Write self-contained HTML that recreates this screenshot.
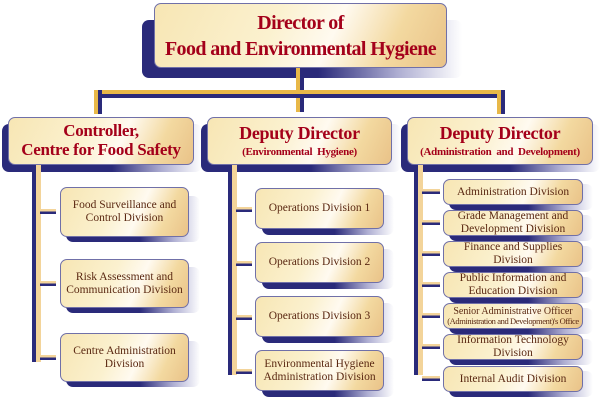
<!DOCTYPE html>
<html><head><meta charset="utf-8"><style>
body{margin:0;width:600px;height:400px;background:#fff;position:relative;overflow:hidden;font-family:"Liberation Serif",serif}
.a{position:absolute}
.sh{position:absolute;border-radius:7px;background:linear-gradient(90deg,#2a2a7a 0%,#2a2a7a 55%,rgba(120,120,180,.6) 80%,rgba(255,255,255,0) 100%)}
.bx{position:absolute;box-sizing:border-box;border:1px solid #7070a8;border-radius:7px;background:linear-gradient(115deg,#f7e6b4 0%,#fbf1cf 40%,#fffaf0 60%,#f3d9a0 80%,#e9c288 100%);display:flex;align-items:center;justify-content:center;text-align:center;color:#5a2812;line-height:1.1;white-space:nowrap}
.h{color:#a4001a;font-weight:bold;letter-spacing:-.3px}
.c{font-size:11.5px}
.sp{position:absolute;background:linear-gradient(90deg,#2a2a7a 0,#2a2a7a 45%,#f3d49a 45%,#f3d49a 100%)}
.tk{position:absolute;height:5px;background:linear-gradient(#f3d49a 50%,#2a2a7a 50%)}
</style></head><body>
<div class="sh" style="left:142px;top:20px;width:320px;height:58px"></div>
<div class="bx h" style="left:154px;top:3px;width:293px;height:65px;font-size:20px;line-height:1.3;letter-spacing:-.6px">Director of<br>Food and Environmental Hygiene</div>
<div class="a" style="left:296px;top:68px;width:8px;height:44px;background:linear-gradient(90deg,#e8b848 50%,#2a2a7a 50%)"></div>
<div class="a" style="left:95px;top:90px;width:410px;height:4px;background:#e8b848"></div>
<div class="a" style="left:95px;top:94px;width:410px;height:4px;background:#2a2a7a"></div>
<div class="a" style="left:94px;top:90px;width:8px;height:24px;background:linear-gradient(90deg,#e8b848 50%,#2a2a7a 50%)"></div>
<div class="a" style="left:497px;top:90px;width:8px;height:24px;background:linear-gradient(90deg,#e8b848 50%,#2a2a7a 50%)"></div>
<div class="sh" style="left:2px;top:124px;width:200px;height:48px"></div>
<div class="bx h" style="left:8px;top:117px;width:186px;height:48px;font-size:17px">Controller,<br>Centre for Food Safety</div>
<div class="sh" style="left:201px;top:124px;width:200px;height:48px"></div>
<div class="bx h" style="left:207px;top:117px;width:185px;height:48px;font-size:18px;flex-direction:column">Deputy Director<span style="font-size:11px;margin-top:2px">(Environmental&nbsp; Hygiene)</span></div>
<div class="sh" style="left:401px;top:124px;width:199px;height:48px"></div>
<div class="bx h" style="left:407px;top:117px;width:186px;height:48px;font-size:18px;flex-direction:column">Deputy Director<span style="font-size:11px;margin-top:2px">(Administration&nbsp; and&nbsp; Development)</span></div>
<div class="sp" style="left:32px;top:165px;width:9px;height:197px"></div>
<div class="sp" style="left:228px;top:165px;width:9px;height:210px"></div>
<div class="sp" style="left:414px;top:165px;width:9px;height:210px"></div>
<div class="tk" style="left:40px;top:209px;width:16px"></div>
<div class="tk" style="left:40px;top:281px;width:16px"></div>
<div class="tk" style="left:40px;top:355px;width:16px"></div>
<div class="sh" style="left:66px;top:196px;width:134px;height:46px"></div>
<div class="bx c" style="left:60px;top:187px;width:129px;height:50px">Food Surveillance and<br>Control Division</div>
<div class="sh" style="left:66px;top:267px;width:134px;height:46px"></div>
<div class="bx c" style="left:60px;top:259px;width:129px;height:49px">Risk Assessment and<br>Communication Division</div>
<div class="sh" style="left:66px;top:341px;width:134px;height:46px"></div>
<div class="bx c" style="left:60px;top:333px;width:129px;height:49px">Centre Administration<br>Division</div>
<div class="tk" style="left:236px;top:207px;width:16px"></div>
<div class="tk" style="left:236px;top:261px;width:16px"></div>
<div class="tk" style="left:236px;top:315px;width:16px"></div>
<div class="tk" style="left:236px;top:369px;width:16px"></div>
<div class="sh" style="left:262px;top:195px;width:132px;height:40px"></div>
<div class="bx c" style="left:255px;top:188px;width:129px;height:41px">Operations Division 1</div>
<div class="sh" style="left:262px;top:249px;width:132px;height:40px"></div>
<div class="bx c" style="left:255px;top:242px;width:129px;height:41px">Operations Division 2</div>
<div class="sh" style="left:262px;top:303px;width:132px;height:40px"></div>
<div class="bx c" style="left:255px;top:296px;width:129px;height:41px">Operations Division 3</div>
<div class="sh" style="left:262px;top:357px;width:132px;height:40px"></div>
<div class="bx c" style="left:255px;top:350px;width:129px;height:41px">Environmental Hygiene<br>Administration Division</div>
<div class="tk" style="left:422px;top:189px;width:18px"></div>
<div class="tk" style="left:422px;top:220px;width:18px"></div>
<div class="tk" style="left:422px;top:251px;width:18px"></div>
<div class="tk" style="left:422px;top:282px;width:18px"></div>
<div class="tk" style="left:422px;top:313px;width:18px"></div>
<div class="tk" style="left:422px;top:344px;width:18px"></div>
<div class="tk" style="left:422px;top:376px;width:18px"></div>
<div class="sh" style="left:449px;top:184px;width:144px;height:26px"></div>
<div class="bx c" style="left:443px;top:179px;width:140px;height:26px">Administration Division</div>
<div class="sh" style="left:449px;top:215px;width:144px;height:26px"></div>
<div class="bx c" style="left:443px;top:210px;width:140px;height:26px">Grade Management and<br>Development Division</div>
<div class="sh" style="left:449px;top:246px;width:144px;height:26px"></div>
<div class="bx c" style="left:443px;top:241px;width:140px;height:26px">Finance and Supplies<br>Division</div>
<div class="sh" style="left:449px;top:277px;width:144px;height:26px"></div>
<div class="bx c" style="left:443px;top:272px;width:140px;height:26px">Public Information and<br>Education Division</div>
<div class="sh" style="left:449px;top:308px;width:144px;height:26px"></div>
<div class="bx" style="left:443px;top:303px;width:140px;height:26px;font-size:10px;flex-direction:column"><span>Senior Administrative Officer</span><span style="font-size:8.5px;letter-spacing:-.4px">(Administration and Development)'s Office</span></div>
<div class="sh" style="left:449px;top:339px;width:144px;height:26px"></div>
<div class="bx c" style="left:443px;top:334px;width:140px;height:26px">Information Technology<br>Division</div>
<div class="sh" style="left:449px;top:371px;width:144px;height:26px"></div>
<div class="bx c" style="left:443px;top:366px;width:140px;height:26px">Internal Audit Division</div>
</body></html>
